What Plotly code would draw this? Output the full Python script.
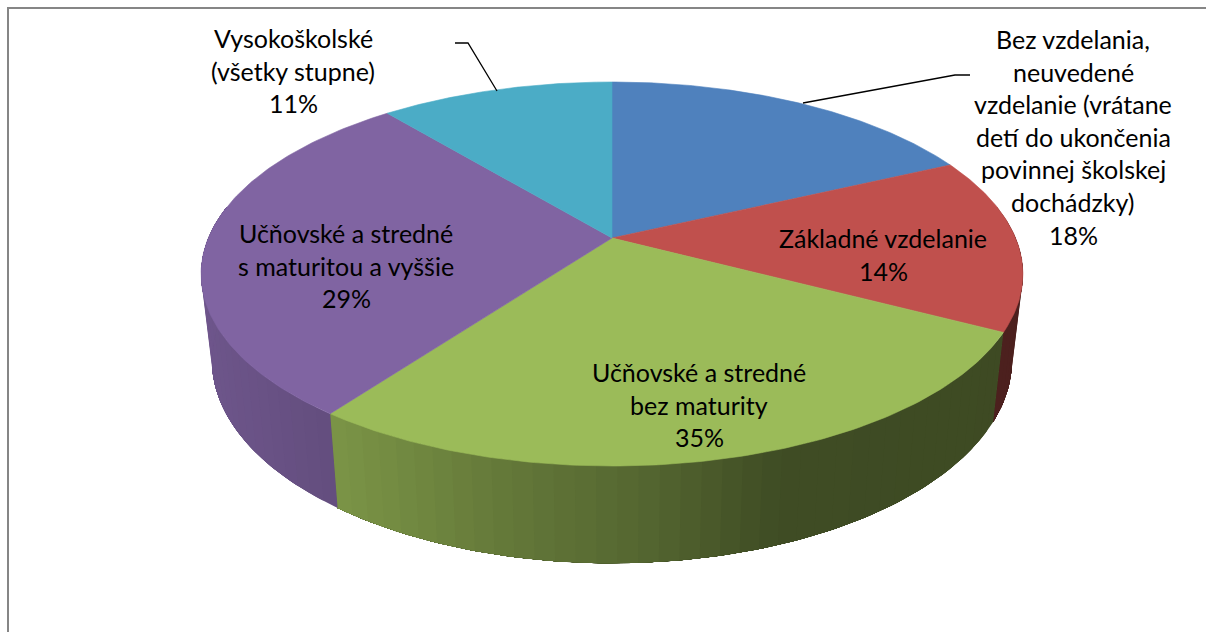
import numpy as np
import plotly.graph_objects as go

# --- data ---
categories = ["Bez vzdelania", "Základné", "Učňovské bez maturity", "Učňovské s maturitou", "Vysokoškolské"]
slice_shares = [18.0, 14.7, 27.4, 28.9, 11.0]   # drawn angular shares
top_colors = ["#4f81bd", "#c0504d", "#9bbb59", "#8064a2", "#4bacc6"]
label_lines = [
    ["Bez vzdelania,", "neuvedené", "vzdelanie (vrátane", "detí do ukončenia", "povinnej školskej", "dochádzky)", "18%"],
    ["Základné vzdelanie", "14%"],
    ["Učňovské a stredné", "bez maturity", "35%"],
    ["Učňovské a stredné", "s maturitou a vyššie", "29%"],
    ["Vysokoškolské", "(všetky stupne)", "11%"],
]
label_x = [1073, 883, 699, 346, 293]
label_y0 = [39, 238, 372, 233, 38]
LINE_H = 32.6
FONT = "Lato"
FONT_SIZE = 25

# --- projection of the tilted pie ---
CX, CY_TOP, CY_BOT = 612, 238, 322
RX_TOP, RY_TOP = 403.6, 185.25
RX_BOT, RY_BOT = 393.0, 196.0
K = 0.1875

def proj(theta_deg, rx, ry, cy):
    t = np.radians(theta_deg)
    X, Y = np.sin(t), np.cos(t)
    w = 1 + K * Y
    return CX + rx * X / w, cy - ry * Y / w

def shade(x):
    return np.interp(x, [201, 330, 340, 500, 640, 780, 1010], [0.86, 0.78, 0.79, 0.65, 0.55, 0.41, 0.40])

def rgb(hexcol, f):
    r, g, b = [int(hexcol[i:i + 2], 16) for i in (1, 3, 5)]
    return f"rgb({int(r*f)},{int(g*f)},{int(b*f)})"

fig = go.Figure()
edges = np.concatenate([[0], np.cumsum(slice_shares)]) / sum(slice_shares) * 360

def poly(xs, ys, col, lw=0.6):
    fig.add_trace(go.Scatter(x=list(xs), y=list(ys), mode="lines", fill="toself", fillcolor=col,
                             line=dict(color=col, width=lw), hoverinfo="skip", showlegend=False))

# side wall, cut into narrow strips for the light gradient; each strip runs on to the end
# of its slice and the next strip is painted over it, so that no seams remain
STEP = 2.5
for i, col in enumerate(top_colors):
    a0, a1 = max(edges[i], 80), min(edges[i + 1], 280)
    if a1 <= a0:
        continue
    n = max(1, int(np.ceil((a1 - a0) / STEP)))
    ang = np.linspace(a0, a1, n + 1)
    for p, q in zip(ang[:-1], ang[1:]):
        arc = np.linspace(p, a1, max(2, int((a1 - p) / 1.0) + 2))
        xt, yt = proj(arc, RX_TOP, RY_TOP, CY_TOP)
        xb, yb = proj(arc[::-1], RX_BOT, RY_BOT, CY_BOT)
        xm = float(proj(np.array([(p + q) / 2]), RX_TOP, RY_TOP, CY_TOP)[0][0])
        poly(np.r_[xt, xb, xt[0]], np.r_[yt, yb, yt[0]], rgb(col, float(shade(xm))), lw=0)

# top face
for i, col in enumerate(top_colors):
    ang = np.linspace(edges[i], edges[i + 1], 120)
    x, y = proj(ang, RX_TOP, RY_TOP, CY_TOP)
    poly(np.r_[CX, x, CX], np.r_[CY_TOP, y, CY_TOP], col)

# chart frame
fig.add_trace(go.Scatter(x=[8, 8, 1206], y=[640, 8, 8], mode="lines", line=dict(color="#868686", width=2),
                         hoverinfo="skip", showlegend=False, cliponaxis=True))
# leader lines
for lx, ly in [([455, 468, 497], [43, 43, 91]), ([803, 955, 970], [103, 75, 75])]:
    fig.add_trace(go.Scatter(x=lx, y=ly, mode="lines", line=dict(color="#000000", width=1.3),
                             hoverinfo="skip", showlegend=False))

for lines, x, y0 in zip(label_lines, label_x, label_y0):
    for j, s in enumerate(lines):
        fig.add_annotation(x=x, y=y0 + j * LINE_H, text=s, showarrow=False, xanchor="center", yanchor="middle",
                           font=dict(family=FONT, size=FONT_SIZE, color="#000000"))

fig.update_layout(width=1206, height=632, margin=dict(l=0, r=0, t=0, b=0), paper_bgcolor="white",
                  plot_bgcolor="white", showlegend=False,
                  xaxis=dict(range=[0, 1206], visible=False, fixedrange=True),
                  yaxis=dict(range=[632, 0], visible=False, fixedrange=True))
fig.write_html("out.html", post_script="document.body.style.margin='0';document.documentElement.style.overflow='hidden';",
               config={"displayModeBar": False})
